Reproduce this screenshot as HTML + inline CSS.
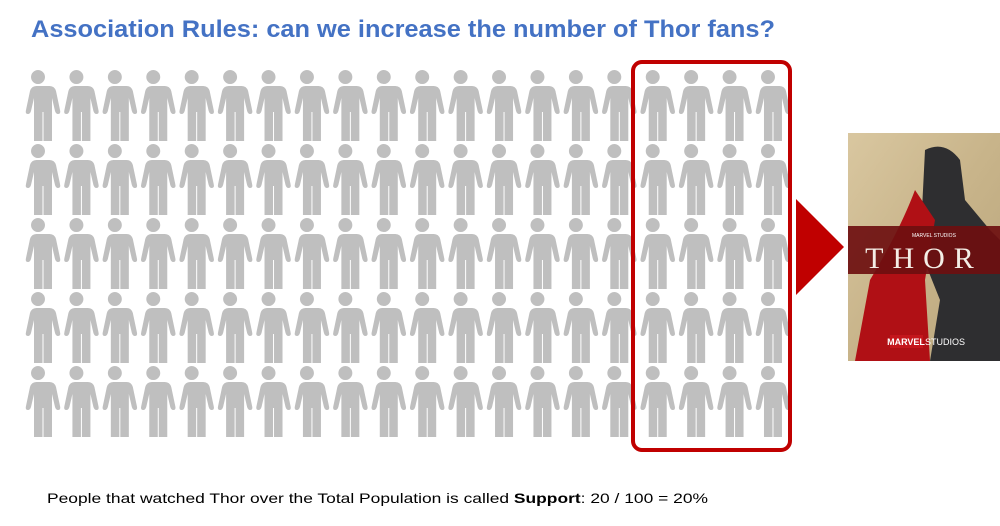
<!DOCTYPE html>
<html><head><meta charset="utf-8"><style>
body{margin:0;background:#fff;width:1000px;height:521px;overflow:hidden;font-family:"Liberation Sans",sans-serif}
</style></head><body>
<svg id="s" width="1000" height="521" viewBox="0 0 1000 521" xmlns="http://www.w3.org/2000/svg">
<defs>
<linearGradient id="bg" x1="0" y1="0" x2="1" y2="1"><stop offset="0" stop-color="#d9c7a0"/><stop offset="0.5" stop-color="#c8b48a"/><stop offset="1" stop-color="#b9a57c"/></linearGradient>
</defs>
<text x="31" y="37" font-size="24" font-weight="bold" fill="#4472C4" textLength="744" lengthAdjust="spacingAndGlyphs">Association Rules: can we increase the number of Thor fans?</text>
<g id="people"></g>
<rect x="633" y="62" width="157" height="388" rx="9" fill="none" stroke="#c00000" stroke-width="4"/>
<polygon points="796,199 844,247 796,295" fill="#c00000"/>
<g>
<rect x="848" y="133" width="152" height="228" fill="url(#bg)"/>
<path d="M925,150 Q945,140 960,160 L965,200 L990,230 L1000,240 L1000,361 L930,361 L940,300 L920,250 Z" fill="#2e2e30"/>
<path d="M915,190 Q900,230 870,280 L855,361 L930,361 L925,280 L935,220 Z" fill="#b01015"/>
<rect x="848" y="226" width="152" height="48" fill="#6e0f10" opacity="0.92"/>
<text x="924" y="268" font-family="Liberation Serif,serif" font-size="30" fill="#f4eee6" text-anchor="middle" letter-spacing="9">THOR</text>
<text x="912" y="237" font-size="5" fill="#fff">MARVEL STUDIOS</text>
<rect x="890" y="335" width="33" height="13" fill="#c4161c"/>
<text x="906" y="345" font-size="9" font-weight="bold" fill="#fff" text-anchor="middle">MARVEL</text>
<text x="925" y="345" font-size="9" fill="#fff">STUDIOS</text>
</g>
<text x="47" y="503" font-size="14" fill="#000" textLength="661" lengthAdjust="spacingAndGlyphs">People that watched Thor over the Total Population is called <tspan font-weight="bold">Support</tspan>: 20 / 100 = 20%</text>
</svg>
<script>
const cols=20, rows=5;
const g=document.getElementById('people');
const NS='http://www.w3.org/2000/svg';
for(let r=0;r<rows;r++){for(let c=0;c<cols;c++){
 const cx=38+c*38.42, top=70+r*74;
 const p=document.createElementNS(NS,'path');
 p.setAttribute('d',`M${cx},${top} a7,7 0 1,0 0.01,0 Z M${cx-11.5},${top+16} h23 q5,0 6.5,5 l4,19 q1,4 -2,4 q-2,0 -3,-3 l-3,-13 v43 h-8.5 v-29 h-1 v29 h-8.5 v-43 l-3,13 q-1,3 -3,3 q-3,0 -2,-4 l4,-19 q1.5,-5 6.5,-5 Z`);
 p.setAttribute('fill','#bfbfbf');
 
 
 g.appendChild(p);
}}
</script>
</body></html>
